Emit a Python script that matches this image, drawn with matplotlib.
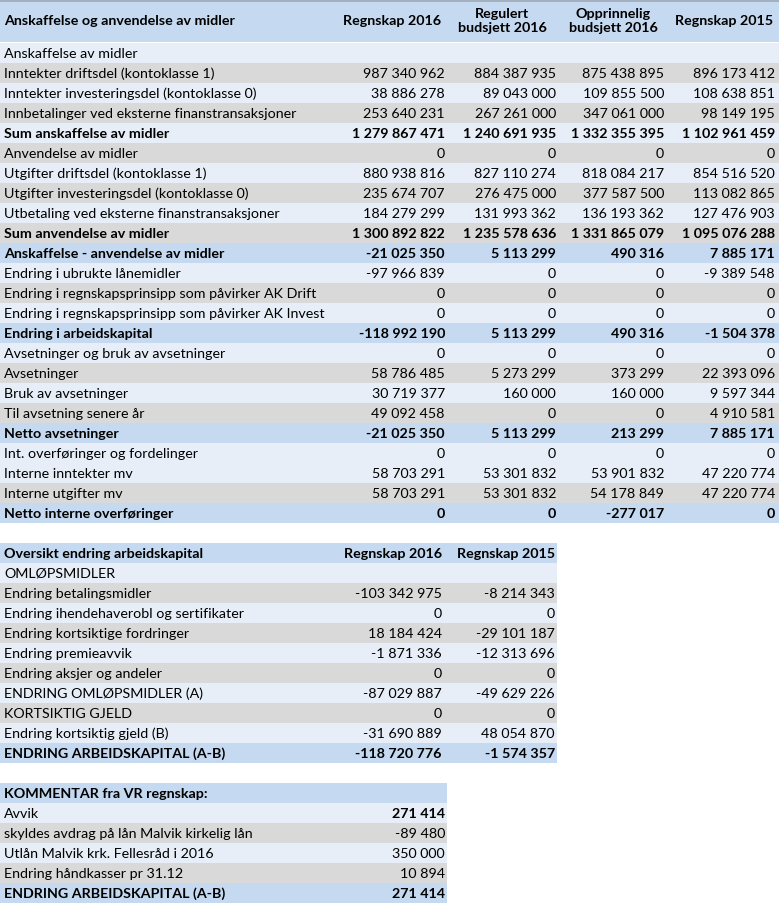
import matplotlib
matplotlib.use("Agg")
import matplotlib.pyplot as plt
from matplotlib.patches import Rectangle

plt.rcParams['font.family'] = ['Lato', 'DejaVu Sans']

# ---- table 1 data ----
t1_title = "Anskaffelse og anvendelse av midler"
t1_cols = ["Regnskap 2016", "Regulert\nbudsjett 2016", "Opprinnelig\nbudsjett 2016", "Regnskap 2015"]
t1_labels = [
    "Anskaffelse av midler",
    "Inntekter driftsdel (kontoklasse 1)",
    "Inntekter investeringsdel (kontoklasse 0)",
    "Innbetalinger ved eksterne finanstransaksjoner",
    "Sum anskaffelse av midler",
    "Anvendelse av midler",
    "Utgifter driftsdel (kontoklasse 1)",
    "Utgifter investeringsdel (kontoklasse 0)",
    "Utbetaling ved eksterne finanstransaksjoner",
    "Sum anvendelse av midler",
    "Anskaffelse - anvendelse av midler",
    "Endring i ubrukte lånemidler",
    "Endring i regnskapsprinsipp som påvirker AK Drift",
    "Endring i regnskapsprinsipp som påvirker AK Invest",
    "Endring i arbeidskapital",
    "Avsetninger og bruk av avsetninger",
    "Avsetninger",
    "Bruk av avsetninger",
    "Til avsetning senere år",
    "Netto avsetninger",
    "Int. overføringer og fordelinger",
    "Interne inntekter mv",
    "Interne utgifter mv",
    "Netto interne overføringer",
]
regnskap_2016 = [None, 987340962, 38886278, 253640231, 1279867471, 0, 880938816, 235674707,
                 184279299, 1300892822, -21025350, -97966839, 0, 0, -118992190, 0, 58786485,
                 30719377, 49092458, -21025350, 0, 58703291, 58703291, 0]
regulert_2016 = [None, 884387935, 89043000, 267261000, 1240691935, 0, 827110274, 276475000,
                 131993362, 1235578636, 5113299, 0, 0, 0, 5113299, 0, 5273299,
                 160000, 0, 5113299, 0, 53301832, 53301832, 0]
opprinnelig_2016 = [None, 875438895, 109855500, 347061000, 1332355395, 0, 818084217, 377587500,
                    136193362, 1331865079, 490316, 0, 0, 0, 490316, 0, 373299,
                    160000, 0, 213299, 0, 53901832, 54178849, -277017]
regnskap_2015 = [None, 896173412, 108638851, 98149195, 1102961459, 0, 854516520, 113082865,
                 127476903, 1095076288, 7885171, -9389548, 0, 0, -1504378, 0, 22393096,
                 9597344, 4910581, 7885171, 0, 47220774, 47220774, 0]

# ---- table 2 data ----
t2_title = "Oversikt endring arbeidskapital"
t2_cols = ["Regnskap 2016", "Regnskap 2015"]
t2_labels = [
    "OMLØPSMIDLER",
    "Endring betalingsmidler",
    "Endring ihendehaverobl og sertifikater",
    "Endring kortsiktige fordringer",
    "Endring premieavvik",
    "Endring aksjer og andeler",
    "ENDRING OMLØPSMIDLER (A)",
    "KORTSIKTIG GJELD",
    "Endring kortsiktig gjeld (B)",
    "ENDRING ARBEIDSKAPITAL (A-B)",
]
t2_2016 = [None, -103342975, 0, 18184424, -1871336, 0, -87029887, 0, -31690889, -118720776]
t2_2015 = [None, -8214343, 0, -29101187, -12313696, 0, -49629226, 0, 48054870, -1574357]

# ---- table 3 data ----
t3_title = "KOMMENTAR fra VR regnskap:"
t3_labels = [
    "Avvik",
    "skyldes avdrag på lån Malvik kirkelig lån",
    "Utlån Malvik krk. Fellesråd i 2016",
    "Endring håndkasser pr 31.12",
    "ENDRING ARBEIDSKAPITAL (A-B)",
]
t3_values = [271414, -89480, 350000, 10894, 271414]

# row styles: L = light, G = gray, B = blue/bold
t1_style = "LGLGLGLGLGBLGLBLGLGBLLGB"
t1_bold = [4, 9, 10, 14, 19, 23]
t2_style = "LGLGLGLGLB"
t3_style = "LGLGB"

BLUE = "#c5d9f1"
LIGHT = "#e7eef8"
GRAY = "#d9d9d9"
COLORS = {"L": LIGHT, "G": GRAY, "B": BLUE}
FS = 10.3


def fmt(v):
    if v is None:
        return ""
    s = f"{abs(v):,}".replace(",", " ")
    return ("-" if v < 0 else "") + s


fig = plt.figure(figsize=(7.79, 9.05), dpi=100)
ax = fig.add_axes([0, 0, 1, 1])
ax.set_xlim(0, 779)
ax.set_ylim(905, 0)
ax.axis("off")

RH = 20

# ---- table 1 ----
W1 = 779
ax.add_patch(Rectangle((0, 0), W1, 42, color=BLUE, lw=0))
ax.plot([0, W1], [0.8, 0.8], color="#9fa8b4", lw=1.2)
ax.text(4, 21, t1_title, fontsize=FS, fontweight="bold", va="center", ha="left")
col_right = [445, 556, 664, 775]
col_center = [392, 502, 613, 724]
for c, name in zip(col_center, t1_cols):
    ax.text(c, 21, name, fontsize=FS, fontweight="bold", va="center", ha="center", linespacing=1.25)
series = [regnskap_2016, regulert_2016, opprinnelig_2016, regnskap_2015]
y0 = 43
for i, lab in enumerate(t1_labels):
    y = y0 + i * RH
    ax.add_patch(Rectangle((0, y), W1, RH, color=COLORS[t1_style[i]], lw=0))
    fw = "bold" if i in t1_bold else "normal"
    ax.text(4, y + RH / 2 + 0.5, lab, fontsize=FS, fontweight=fw, va="center", ha="left")
    for xr, s in zip(col_right, series):
        ax.text(xr, y + RH / 2 + 0.5, fmt(s[i]), fontsize=FS, fontweight=fw, va="center", ha="right")

# ---- table 2 ----
W2 = 557
y2 = 543
ax.add_patch(Rectangle((0, y2), W2, RH, color=BLUE, lw=0))
ax.text(4, y2 + RH / 2 + 0.5, t2_title, fontsize=FS, fontweight="bold", va="center")
t2_right = [442, 555]
for xr, name in zip(t2_right, t2_cols):
    ax.text(xr, y2 + RH / 2 + 0.5, name, fontsize=FS, fontweight="bold", va="center", ha="right")
for i, lab in enumerate(t2_labels):
    y = y2 + RH + i * RH
    ax.add_patch(Rectangle((0, y), W2, RH, color=COLORS[t2_style[i]], lw=0))
    fw = "bold" if t2_style[i] == "B" else "normal"
    ax.text(4, y + RH / 2 + 0.5, lab, fontsize=FS, fontweight=fw, va="center")
    for xr, s in zip(t2_right, [t2_2016, t2_2015]):
        ax.text(xr, y + RH / 2 + 0.5, fmt(s[i]), fontsize=FS, fontweight=fw, va="center", ha="right")

# ---- table 3 ----
W3 = 447
y3 = 783
ax.add_patch(Rectangle((0, y3), W3, RH, color=BLUE, lw=0))
ax.text(4, y3 + RH / 2 + 0.5, t3_title, fontsize=FS, fontweight="bold", va="center")
for i, lab in enumerate(t3_labels):
    y = y3 + RH + i * RH
    ax.add_patch(Rectangle((0, y), W3, RH, color=COLORS[t3_style[i]], lw=0))
    fw = "bold" if t3_style[i] == "B" else "normal"
    vfw = "bold" if (i == 0 or t3_style[i] == "B") else "normal"
    ax.text(4, y + RH / 2 + 0.5, lab, fontsize=FS, fontweight=fw, va="center")
    ax.text(445, y + RH / 2 + 0.5, fmt(t3_values[i]), fontsize=FS, fontweight=vfw, va="center", ha="right")

fig.savefig("out.png", dpi=100)
